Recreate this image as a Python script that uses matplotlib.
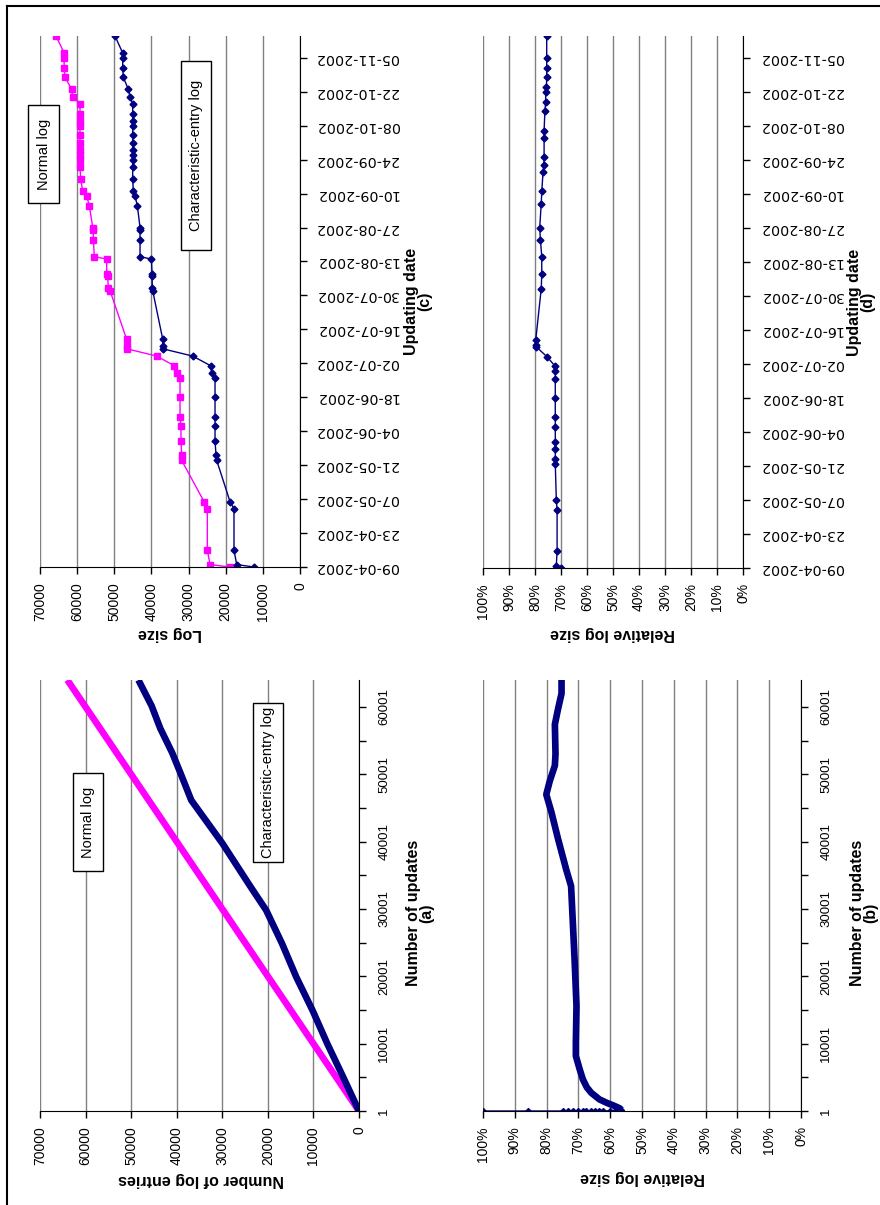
import matplotlib
matplotlib.use('Agg')
import matplotlib.pyplot as plt
import matplotlib.dates as mdates
from matplotlib.lines import Line2D
from matplotlib.patches import Rectangle
import pandas as pd

plt.rcParams['font.family'] = ['Liberation Sans', 'DejaVu Sans']

NAVY = '#000080'
PINK = '#ff00ff'
GRID = '#808080'

# ---- (a) and (b): log size against number of updates ----
update_ticks = [1, 5001, 10001, 15001, 20001, 25001, 30001, 35001, 40001,
                45001, 50001, 55001, 60001]
update_labels = ['1', '', '10001', '', '20001', '', '30001', '', '40001',
                 '', '50001', '', '60001']
update_max = 64000

entries_ticks = [0, 10000, 20000, 30000, 40000, 50000, 60000, 70000]
percent_ticks = [0, 10, 20, 30, 40, 50, 60, 70, 80, 90, 100]
percent_labels = ['0%', '10%', '20%', '30%', '40%', '50%', '60%', '70%', '80%', '90%', '100%']

normal_updates = [1, 64000]
normal_entries = [1, 64000]

char_updates = [1, 5050, 10000, 14950, 19900, 24850, 29800, 33270, 39700,
                46140, 50100, 53200, 56800, 60150, 64000]
char_entries = [0, 3480, 6960, 10200, 13770, 16880, 20360, 23770, 29930,
                36800, 39130, 41000, 43600, 45500, 48400]

# first few updates, before the curve settles
rel_start_updates = [1, 2, 3, 4, 5, 6, 7, 8, 9, 10, 12, 14, 20, 40, 150]
rel_start = [100, 85.7, 75, 73.3, 71.7, 70.2, 68.6, 67.5, 66, 64.9, 63.4,
             62.3, 60.2, 58.6, 56.5]

rel_updates = [150, 400, 740, 1200, 1730, 2720, 3200, 3470, 4700, 6200, 8170,
               10150, 15600, 22500, 27500, 33400, 35800, 40400, 44400, 47000,
               49000, 51300, 53000, 57400, 59700, 62000, 64000]
rel_size = [56.5, 57.0, 58.6, 61.0, 63.4, 66.0, 66.8, 67.3, 68.6, 69.6, 70.8,
            70.8, 70.6, 71.2, 71.7, 72.3, 73.8, 76.4, 78.5, 80.1,
            79.0, 77.4, 77.2, 77.4, 76.4, 75.3, 75.3]

# ---- (c) and (d): log size against updating date ----
date_ticks = ['09-04-2002', '23-04-2002', '07-05-2002', '21-05-2002',
              '04-06-2002', '18-06-2002', '02-07-2002', '16-07-2002',
              '30-07-2002', '13-08-2002', '27-08-2002', '10-09-2002',
              '24-09-2002', '08-10-2002', '22-10-2002', '05-11-2002']
date_last = '14-11-2002'

c_dates = ['09-04-2002', '10-04-2002', '16-04-2002', '03-05-2002', '06-05-2002',
           '23-05-2002', '25-05-2002', '31-05-2002', '06-06-2002', '10-06-2002',
           '18-06-2002', '26-06-2002', '28-06-2002', '01-07-2002', '05-07-2002',
           '08-07-2002', '09-07-2002', '12-07-2002', '01-08-2002', '02-08-2002',
           '07-08-2002', '08-08-2002', '14-08-2002', '15-08-2002', '22-08-2002',
           '26-08-2002', '27-08-2002', '05-09-2002', '09-09-2002', '11-09-2002',
           '16-09-2002', '21-09-2002', '24-09-2002', '26-09-2002', '28-09-2002',
           '01-10-2002', '04-10-2002', '08-10-2002', '10-10-2002', '13-10-2002',
           '17-10-2002', '20-10-2002', '23-10-2002', '28-10-2002', '01-11-2002',
           '05-11-2002', '07-11-2002', '14-11-2002']
c_normal = [18850, 24230, 24950, 24950, 25850,
            31860, 31860, 32040, 32040, 32300,
            32300, 32300, 33200, 33830, 38600,
            46660, 46660, 46700, 51150, 51600,
            51800, 52050, 52050, 55370, 55640,
            55640, 55800, 56720, 57430, 58500,
            59050, 59230, 59230, 59230, 59230,
            59230, 59230, 59230, 59230, 59230,
            59230, 61200, 61470, 63270, 63500,
            63500, 63500, 65690]
c_char = [12380, 17050, 17770, 17770, 18850,
          22430, 22600, 22880, 22880, 22880,
          22880, 22880, 23780, 24050, 28900,
          36970, 36970, 36970, 39660, 39750,
          39840, 39840, 40000, 43070, 43070,
          43070, 43070, 43790, 44420, 44870,
          45050, 45050, 45050, 45050, 45050,
          45050, 45050, 45050, 45050, 45050,
          45050, 45770, 46220, 47560, 47740,
          47740, 47740, 49800]

d_dates = ['09-04-2002', '10-04-2002', '16-04-2002', '03-05-2002', '07-05-2002',
           '22-05-2002', '24-05-2002', '28-05-2002', '31-05-2002', '06-06-2002',
           '10-06-2002', '18-06-2002', '26-06-2002', '29-06-2002', '01-07-2002',
           '05-07-2002', '09-07-2002', '10-07-2002', '12-07-2002', '02-08-2002',
           '08-08-2002', '15-08-2002', '22-08-2002', '27-08-2002', '06-09-2002',
           '11-09-2002', '19-09-2002', '22-09-2002', '25-09-2002', '03-10-2002',
           '06-10-2002', '14-10-2002', '18-10-2002', '22-10-2002', '24-10-2002',
           '28-10-2002', '01-11-2002', '05-11-2002', '14-11-2002']
d_rel = [69.9, 71.8, 71.5, 71.5, 71.8,
         72.2, 72.2, 72.2, 72.2, 72.2,
         72.2, 72.2, 72.2, 72.2, 72.2,
         75.4, 79.5, 79.7, 79.7, 77.6,
         77.4, 77.4, 77.9, 78.2, 77.6,
         77.4, 76.9, 76.6, 76.5, 76.5,
         76.5, 76.2, 75.9, 75.9, 75.6,
         75.5, 75.5, 75.5, 75.5]


def to_num(dates):
    return mdates.date2num(pd.to_datetime(dates, format='%d-%m-%Y'))


W, H = 880, 1205
fig = plt.figure(figsize=(W / 100, H / 100), dpi=100)


def rect(l, t, r, b):
    return [l / W, 1 - b / H, (r - l) / W, (b - t) / H]


def style(ax):
    ax.set_facecolor('none')
    ax.spines['left'].set_visible(False)
    ax.spines['top'].set_visible(False)
    ax.spines['right'].set_color('black')
    ax.spines['bottom'].set_color('black')
    ax.yaxis.tick_right()
    ax.tick_params(direction='out', length=5, width=1, color='black')
    ax.tick_params(axis='x', pad=6)
    ax.grid(axis='x', color=GRID, lw=1)
    ax.set_axisbelow(True)


def ftext(x, y, s, **kw):
    fig.text(x / W, 1 - y / H, s, ha='center', va='center', **kw)


def label_box(l, t, r, b, s):
    fig.add_artist(Rectangle((l / W, 1 - b / H), (r - l) / W, (b - t) / H,
                             transform=fig.transFigure, facecolor='white',
                             edgecolor='black', lw=1, zorder=4))
    fig.text((l + r) / 2 / W, 1 - (t + b) / 2 / H, s, rotation=90, fontsize=10.5,
             ha='center', va='center', zorder=5)


# (c) log size per updating date
ax_c = fig.add_axes(rect(40, 36, 300, 567))
style(ax_c)
ax_c.plot(c_normal, to_num(c_dates), color=PINK, lw=1, marker='s', ms=4.3,
          mec=PINK, mfc=PINK)
ax_c.plot(c_char, to_num(c_dates), color=NAVY, lw=1, marker='D', ms=3.5,
          mec=NAVY, mfc=NAVY)
ax_c.set_xlim(70000, 0)
ax_c.set_ylim(to_num(date_ticks[:1])[0], to_num([date_last])[0])
ax_c.set_xticks(entries_ticks)
ax_c.set_xticklabels([str(v) for v in entries_ticks], rotation=90, fontsize=10)
ax_c.set_yticks(to_num(date_ticks))
ax_c.set_yticklabels(date_ticks, rotation=180, fontsize=10.3,
                     family='DejaVu Sans', va='center')
ax_c.tick_params(axis='y', pad=6)
ftext(170, 634, 'Log size', rotation=180, fontsize=11.5, fontweight='bold')
ftext(418, 301, 'Updating date\n(c)', rotation=90, fontsize=11.5,
      fontweight='bold', linespacing=0.9)
label_box(28, 105, 59, 203, 'Normal log')
label_box(181, 61, 211, 250, 'Characteristic-entry log')

# (d) relative log size per updating date
ax_d = fig.add_axes(rect(483, 36, 743, 568))
style(ax_d)
ax_d.plot(d_rel, to_num(d_dates), color=NAVY, lw=1, marker='D', ms=3.5,
          mec=NAVY, mfc=NAVY)
ax_d.set_xlim(100, 0)
ax_d.set_ylim(to_num(date_ticks[:1])[0], to_num([date_last])[0])
ax_d.set_xticks(percent_ticks)
ax_d.set_xticklabels(percent_labels, rotation=90, fontsize=10)
ax_d.set_yticks(to_num(date_ticks))
ax_d.set_yticklabels(date_ticks, rotation=180, fontsize=10.3,
                     family='DejaVu Sans', va='center')
ax_d.tick_params(axis='y', pad=7)
ftext(613, 634, 'Relative log size', rotation=180, fontsize=11.5, fontweight='bold')
ftext(861, 302, 'Updating date\n(d)', rotation=90, fontsize=11.5,
      fontweight='bold', linespacing=0.9)

# (a) number of log entries per number of updates
ax_a = fig.add_axes(rect(40, 680, 359, 1111))
style(ax_a)
ax_a.plot(normal_entries, normal_updates, color=PINK, lw=4.8,
          solid_capstyle='butt')
ax_a.plot(char_entries, char_updates, color=NAVY, lw=4.8,
          solid_capstyle='butt', solid_joinstyle='round')
ax_a.set_xlim(70000, 0)
ax_a.set_ylim(1, update_max)
ax_a.set_xticks(entries_ticks)
ax_a.set_xticklabels([str(v) for v in entries_ticks], rotation=90, fontsize=10)
ax_a.set_yticks(update_ticks)
ax_a.set_yticklabels(update_labels, rotation=90, fontsize=9.5, va='center')
ax_a.tick_params(axis='y', pad=9)
ftext(201, 1179, 'Number of log entries', rotation=180, fontsize=11.5,
      fontweight='bold')
ftext(420, 913, 'Number of updates\n(a)', rotation=90, fontsize=11.5,
      fontweight='bold', linespacing=0.9)
label_box(73, 773, 103, 871, 'Normal log')
label_box(253, 703, 283, 862, 'Characteristic-entry log')

# (b) relative log size per number of updates
ax_b = fig.add_axes(rect(483, 680, 801, 1111))
style(ax_b)
ax_b.plot(rel_start, rel_start_updates, color=NAVY, lw=1, marker='D', ms=3,
          mec=NAVY, mfc=NAVY)
ax_b.plot(rel_size, rel_updates, color=NAVY, lw=4.8, solid_joinstyle='round',
          solid_capstyle='butt')
ax_b.set_xlim(100, 0)
ax_b.set_ylim(1, update_max)
ax_b.set_xticks(percent_ticks)
ax_b.set_xticklabels(percent_labels, rotation=90, fontsize=10)
ax_b.set_yticks(update_ticks)
ax_b.set_yticklabels(update_labels, rotation=90, fontsize=9.5, va='center')
ax_b.tick_params(axis='y', pad=9)
ftext(643, 1178, 'Relative log size', rotation=180, fontsize=11.5,
      fontweight='bold')
ftext(864, 913, 'Number of updates\n(b)', rotation=90, fontsize=11.5,
      fontweight='bold', linespacing=0.9)

# page frame (left and top edges)
fig.add_artist(Line2D([6.5 / W, 6.5 / W], [0, 1 - 6 / H], transform=fig.transFigure,
                      color='black', lw=1.5))
fig.add_artist(Line2D([6.5 / W, 1], [1 - 6 / H, 1 - 6 / H], transform=fig.transFigure,
                      color='black', lw=1.5))

fig.savefig('out.png', dpi=100, facecolor='white')
